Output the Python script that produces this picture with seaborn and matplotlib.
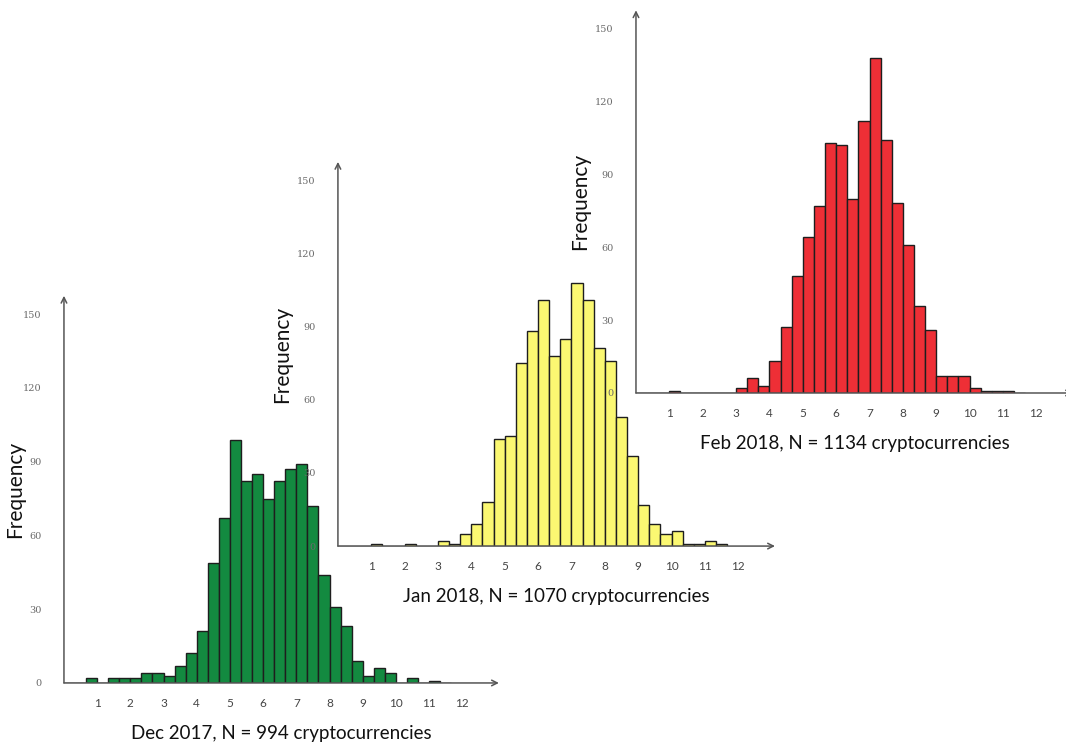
import numpy as np
import pandas as pd
import matplotlib
matplotlib.use("Agg")
import matplotlib.pyplot as plt
import seaborn as sns

sns.set_style("white")
plt.rcParams['font.family'] = ['Lato', 'DejaVu Sans']

# bin counts, bins of width 1/3 starting at 0 (35 bins, up to 11.67)
dec_counts = [0, 0, 2, 0, 2, 2, 2, 4, 4, 3, 7, 12, 21, 49, 67, 99, 82, 85,
              75, 82, 87, 89, 72, 44, 31, 23, 9, 3, 6, 4, 0, 2, 0, 1, 0]
jan_counts = [0, 0, 0, 1, 0, 0, 1, 0, 0, 2, 1, 5, 9, 18, 44, 45, 75, 88,
              101, 78, 85, 108, 101, 81, 76, 53, 37, 17, 9, 5, 6, 1, 1, 2, 1]
feb_counts = [0, 0, 0, 1, 0, 0, 0, 0, 0, 2, 6, 3, 13, 27, 48, 64, 77, 103,
              102, 80, 112, 138, 104, 78, 61, 36, 26, 7, 7, 7, 2, 1, 1, 1, 0]

titles = ['Dec 2017, N = 994 cryptocurrencies',
          'Jan 2018, N = 1070 cryptocurrencies',
          'Feb 2018, N = 1134 cryptocurrencies']
colors = ['#138a40', '#fbf872', '#ee2f36']
y_ticks = [0, 30, 60, 90, 120, 150]
x_ticks = list(range(1, 13))

bin_w = 1 / 3
n_bins = len(dec_counts)
mids = (np.arange(n_bins) + 0.5) * bin_w

fig = plt.figure(figsize=(10.66, 7.46), dpi=100)
boxes = [[0.060, 0.0845, 0.408, 0.519],
         [0.317, 0.268, 0.410, 0.515],
         [0.5966, 0.4732, 0.410, 0.513]]
ylabel_x = [-0.09, -0.105, -0.105]

for counts, title, col, box, lx in zip([dec_counts, jan_counts, feb_counts],
                                       titles, colors, boxes, ylabel_x):
    ax = fig.add_axes(box)
    ax.set_facecolor('none')
    df = pd.DataFrame({'value': mids, 'count': counts})
    sns.histplot(data=df, x='value', weights='count', binwidth=bin_w,
                 binrange=(0, n_bins * bin_w), color=col,
                 edgecolor='#1e1e1e', linewidth=1, alpha=1, ax=ax)
    ax.set_xlim(0, 13.1)
    ax.set_ylim(0, 157.5)
    ax.set_xticks(x_ticks)
    ax.set_yticks(y_ticks)
    ax.tick_params(axis='y', length=4, width=1, color='#555555', pad=12,
                   labelsize=7, labelcolor='#6a6a6a')
    ax.tick_params(axis='x', length=5, width=1, color='#555555', pad=6,
                   labelsize=8.5, labelcolor='#444444')
    for lab in ax.get_yticklabels():
        lab.set_family(['DejaVu Serif'])
    ax.set_ylabel('Frequency', fontsize=15, color='#111111')
    ax.yaxis.set_label_coords(lx, 0.5)
    ax.set_xlabel(title, fontsize=13.5, labelpad=11, color='#111111')
    for s in ['top', 'right', 'left', 'bottom']:
        ax.spines[s].set_visible(False)
    # axis lines with open arrowheads
    ax.annotate('', xy=(0, 1.0), xytext=(0, 0), xycoords='axes fraction',
                arrowprops=dict(arrowstyle='->', color='#555555', lw=1.1,
                                mutation_scale=10, shrinkA=0, shrinkB=0))
    ax.annotate('', xy=(1.0, 0), xytext=(0, 0), xycoords='axes fraction',
                arrowprops=dict(arrowstyle='->', color='#555555', lw=1.1,
                                mutation_scale=10, shrinkA=0, shrinkB=0))

fig.savefig('out.png', dpi=100)
